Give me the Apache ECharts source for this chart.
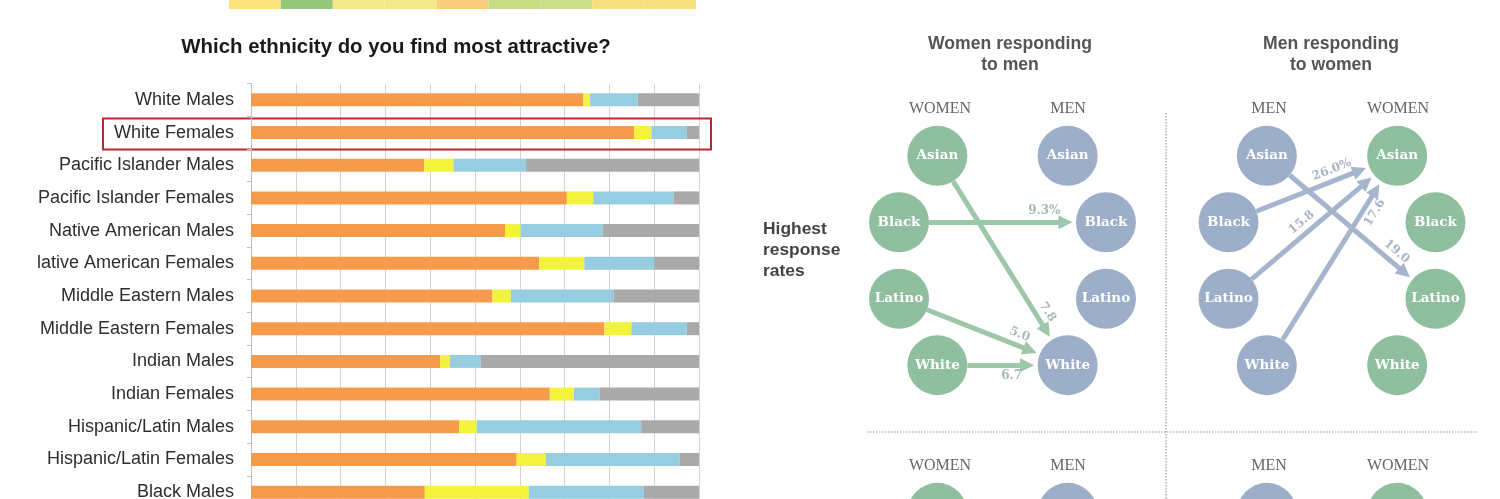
<!DOCTYPE html>
<html><head><meta charset="utf-8">
<script src="https://cdn.jsdelivr.net/npm/echarts@6/dist/echarts.min.js"></script>
<style>html,body{margin:0;padding:0;background:#fff}#c{width:1500px;height:499px}</style>
</head><body><div id="c"></div>
<script>
// ---------------- DATA ----------------
const barCategories = ['White Males', 'White Females', 'Pacific Islander Males', 'Pacific Islander Females',
  'Native American Males', 'lative American Females', 'Middle Eastern Males', 'Middle Eastern Females',
  'Indian Males', 'Indian Females', 'Hispanic/Latin Males', 'Hispanic/Latin Females', 'Black Males'];
const firstShare  = [74.2, 85.5, 38.7, 70.5, 56.7, 64.3, 53.9, 78.9, 42.2, 66.7, 46.5, 59.3, 38.8];
const secondShare = [1.5, 3.9, 6.5, 5.9, 3.5, 10.1, 4.1, 6.0, 2.2, 5.4, 3.9, 6.5, 23.2];
const thirdShare  = [10.6, 7.8, 16.2, 17.9, 18.3, 15.6, 22.9, 12.4, 6.9, 5.7, 36.7, 29.9, 25.7];
const fourthShare = [13.7, 2.8, 38.6, 5.7, 21.5, 10.0, 19.1, 2.7, 48.7, 22.2, 12.9, 4.3, 12.3];
const seriesNames = ['Share 1', 'Share 2', 'Share 3', 'Share 4'];
const highlightedCategory = 'White Females';

const topStripCells = ['c1', 'c2', 'c3', 'c4', 'c5', 'c6', 'c7', 'c8', 'c9'];
const topStripValues = [1, 1, 1, 1, 1, 1, 1, 1, 1];

const ethnicities = ['Asian', 'Black', 'Latino', 'White'];
const womenToMenLinks = [['Asian', 'White', '7.8'], ['Black', 'Black', '9.3%'], ['Latino', 'White', '5.0'], ['White', 'White', '6.7']];
const menToWomenLinks = [['Black', 'Asian', '26.0%'], ['Latino', 'Asian', '15.8'], ['White', 'Asian', '17.6'], ['Asian', 'Latino', '19.0']];

// ---------------- STYLE / LAYOUT ----------------
const SANS = "'Liberation Sans', Arial, sans-serif";
const SERIF = "'DejaVu Serif', serif";
const HSERIF = "'Liberation Serif', 'Times New Roman', serif";
const barColors = ['#F69B4C', '#F3F33C', '#96CDE0', '#A9A9A9'];
const stripColors = ['#F8E27B', '#93C87A', '#F2E98B', '#F2E98B', '#F8CE7C', '#C6DD83', '#CBDE88', '#F9E07F', '#F9E07F'];
const GREEN = '#8FBF9E', BLUE = '#9DAEC8';
const GREEN_EDGE = '#9DC7A9', BLUE_EDGE = '#A6B5CE';
const GREEN_LBL = '#A9BBAF', BLUE_LBL = '#A9B3C6';
const womenLabelPos = ['insideEndTop', 'insideEndTop', 'insideEndTop', 'insideEndBottom'];
const menLabelPos = ['insideEndTop', 'insideMiddleTop', 'insideEndBottom', 'insideEndTop'];
const ARC = { R: 148, d: 39.5, r: 30, gap: 3.5, arrow: 14 };
const ANGLE = { Asian: 45, Black: 15, Latino: -15, White: -45 };

function nodePos(eth, side) {
  const a = ANGLE[eth] * Math.PI / 180;
  const x = side < 0 ? ARC.d - ARC.R * Math.cos(a) : -ARC.d + ARC.R * Math.cos(a);
  return [x, ARC.R * Math.sin(a)];
}

const grids = [], xAxes = [], yAxes = [], series = [];

// bar chart grid
grids.push({ left: 251, top: 83.5, width: 448, height: 425, outerBoundsMode: 'none' });
xAxes.push({ gridIndex: 0, type: 'value', min: 0, max: 100, interval: 10,
  axisLine: { show: false }, axisTick: { show: false }, axisLabel: { show: false },
  splitLine: { show: true, lineStyle: { color: '#d3d3d3', width: 1 } } });
yAxes.push({ gridIndex: 0, type: 'category', data: barCategories, inverse: true,
  axisLine: { show: true, lineStyle: { color: '#bdbdbd' } },
  axisTick: { show: true, length: 4, lineStyle: { color: '#bdbdbd' } },
  axisLabel: { fontFamily: SANS, fontSize: 18, color: '#2e2e2e', margin: 17 } });
[firstShare, secondShare, thirdShare, fourthShare].forEach((d, i) => {
  series.push({ type: 'bar', name: seriesNames[i], xAxisIndex: 0, yAxisIndex: 0, stack: 'total',
    data: d, barWidth: 13, itemStyle: { color: barColors[i] }, silent: true });
});

// top strip
grids.push({ left: 229, top: -1, width: 467, height: 10, outerBoundsMode: 'none' });
xAxes.push({ gridIndex: 1, type: 'category', data: topStripCells, show: false });
yAxes.push({ gridIndex: 1, type: 'value', min: 0, max: 1, show: false });
series.push({ type: 'bar', xAxisIndex: 1, yAxisIndex: 1, barWidth: '100%', silent: true,
  data: topStripValues.map((v, i) => ({ value: v, itemStyle: { color: stripColors[i] } })) });

// network panels
const panels = [
  { mid: 1002.5, cy: 260.5, leftColor: GREEN, rightColor: BLUE, edge: GREEN_EDGE, lbl: GREEN_LBL, links: womenToMenLinks, pos: womenLabelPos },
  { mid: 1332, cy: 260.5, leftColor: BLUE, rightColor: GREEN, edge: BLUE_EDGE, lbl: BLUE_LBL, links: menToWomenLinks, pos: menLabelPos },
  { mid: 1002.5, cy: 617.5, leftColor: GREEN, rightColor: BLUE, links: [] },
  { mid: 1332, cy: 617.5, leftColor: BLUE, rightColor: GREEN, links: [] }
];
panels.forEach(p => {
  const gi = grids.length;
  grids.push({ left: p.mid - 150, top: p.cy - 150, width: 300, height: 300, outerBoundsMode: 'none' });
  xAxes.push({ gridIndex: gi, type: 'value', min: -150, max: 150, show: false });
  yAxes.push({ gridIndex: gi, type: 'value', min: -150, max: 150, show: false });
  if (p.links.length) {
    series.push({
      type: 'lines', coordinateSystem: 'cartesian2d', xAxisIndex: gi, yAxisIndex: gi, silent: true,
      symbol: ['none', 'triangle'], symbolSize: [0, ARC.arrow],
      lineStyle: { color: p.edge, width: 5, opacity: 1, curveness: 0 },
      label: { show: true, formatter: '{b}', color: p.lbl, fontFamily: SERIF, fontWeight: 'bold', fontSize: 12, distance: 5 },
      data: p.links.map((l, i) => {
        const a = nodePos(l[0], -1), b = nodePos(l[1], 1);
        const dx = b[0] - a[0], dy = b[1] - a[1], len = Math.hypot(dx, dy);
        const ux = dx / len, uy = dy / len;
        const s = [a[0] + ux * ARC.r, a[1] + uy * ARC.r];
        const back = ARC.r + ARC.gap + ARC.arrow / 2;
        const e = [b[0] - ux * back, b[1] - uy * back];
        return { name: l[2], coords: [s, e], label: { position: p.pos[i] } };
      })
    });
  }
  const nodes = [];
  ethnicities.forEach(eth => nodes.push({ name: eth, value: nodePos(eth, -1), itemStyle: { color: p.leftColor } }));
  ethnicities.forEach(eth => nodes.push({ name: eth, value: nodePos(eth, 1), itemStyle: { color: p.rightColor } }));
  series.push({ type: 'scatter', xAxisIndex: gi, yAxisIndex: gi, symbolSize: 60, silent: true,
    data: nodes, itemStyle: { opacity: 1 },
    label: { show: true, position: 'inside', formatter: '{b}', color: '#fff', fontFamily: SERIF, fontWeight: 'bold', fontSize: 13.5 } });
});

const chart = echarts.init(document.getElementById('c'), null, { renderer: 'canvas' });
chart.setOption({ animation: false, backgroundColor: '#fff', grid: grids, xAxis: xAxes, yAxis: yAxes, series: series });

// ---------------- TEXT & ANNOTATIONS ----------------
function txt(text, x, y, font, color, align) {
  return { type: 'text', x: x, y: y, silent: true,
    style: { text: text, fill: color, font: font, align: align || 'center', verticalAlign: 'middle' } };
}
const yc = chart.convertToPixel({ yAxisIndex: 0 }, highlightedCategory);
const xr = chart.convertToPixel({ xAxisIndex: 0 }, 100);
const g = [
  txt('Which ethnicity do you find most attractive?', 396, 47, "bold 20.4px " + SANS, '#1a1a1a'),
  { type: 'rect', silent: true, shape: { x: 103, y: yc - 14, width: xr + 12 - 103, height: 31 },
    style: { fill: 'none', stroke: '#B52A30', lineWidth: 2 } },
  txt('Women responding', 1010, 44, "bold 17.6px " + SANS, '#555'),
  txt('to men', 1010, 65, "bold 17.6px " + SANS, '#555'),
  txt('Men responding', 1331, 44, "bold 17.6px " + SANS, '#555'),
  txt('to women', 1331, 65, "bold 17.6px " + SANS, '#555'),
  txt('Highest', 763, 229, "bold 17.4px " + SANS, '#444', 'left'),
  txt('response', 763, 250, "bold 17.4px " + SANS, '#444', 'left'),
  txt('rates', 763, 271, "bold 17.4px " + SANS, '#444', 'left'),
  { type: 'line', silent: true, shape: { x1: 1166, y1: 113, x2: 1166, y2: 499 },
    style: { stroke: '#9a9a9a', lineWidth: 1.2, lineDash: [1.5, 1.5] } },
  { type: 'line', silent: true, shape: { x1: 867, y1: 432, x2: 1477, y2: 432 },
    style: { stroke: '#9a9a9a', lineWidth: 1.2, lineDash: [1.5, 1.5] } }
];
[109, 466].forEach(y => {
  g.push(txt('WOMEN', 940, y, "16px " + HSERIF, '#666'));
  g.push(txt('MEN', 1068, y, "16px " + HSERIF, '#666'));
  g.push(txt('MEN', 1269, y, "16px " + HSERIF, '#666'));
  g.push(txt('WOMEN', 1398, y, "16px " + HSERIF, '#666'));
});
chart.setOption({ graphic: g });
</script>
</body></html>
